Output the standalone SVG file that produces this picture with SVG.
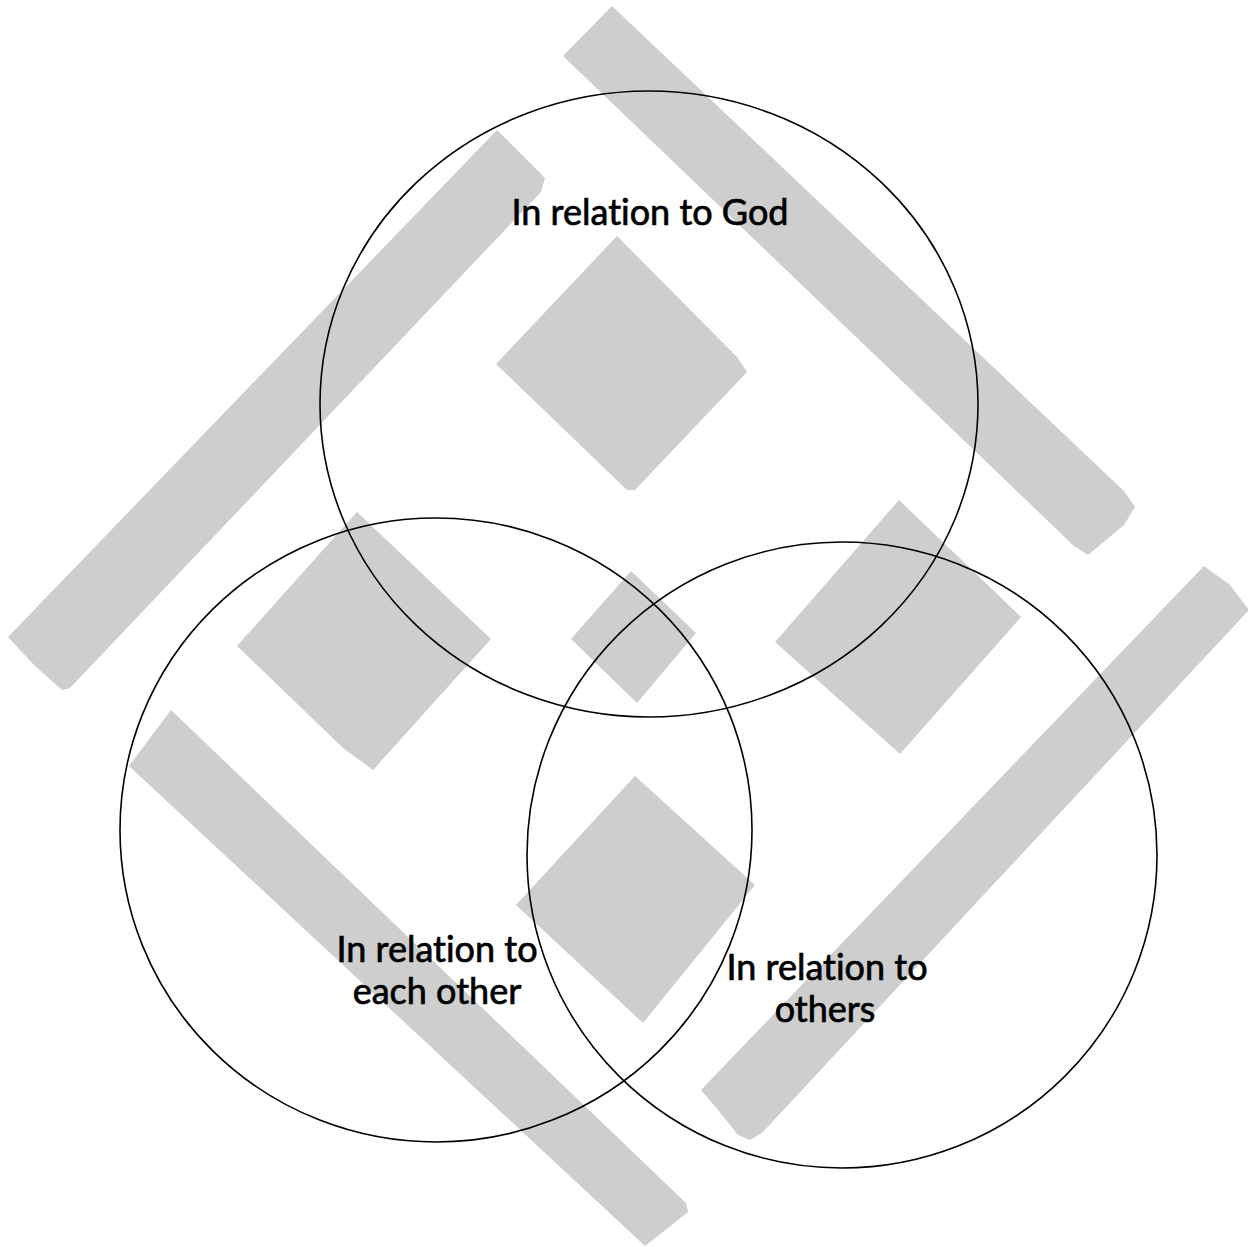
<svg xmlns="http://www.w3.org/2000/svg" width="1248" height="1247" viewBox="0 0 1248 1247">
<style>
.bg{fill:#cecece;stroke:none}
.c{fill:none;stroke:#000;stroke-width:1.6}
.t{font-family:Lato,"Open Sans","Liberation Sans",sans-serif;font-size:36px;fill:#000;stroke:#000;stroke-width:0.7;text-anchor:middle;font-variant-ligatures:none}
</style>
<rect width="1248" height="1247" fill="#fff"/>
<g id="background">
<path class="bg" d="M497,130 L545,178 L541,192 L70,688 L62,690 L35,666 L8,637 Z"/>
<path class="bg" d="M612,6 L1124,491 L1135,507 L1124,525 L1088,555 L1074,546 L563,56 Z"/>
<path class="bg" d="M171,710 L686,1203 L688,1212 L645,1246 L129,766 Z"/>
<path class="bg" d="M1204,566 L1230,585 L1249,610 L762,1133 L750,1140 L738,1135 L718,1110 L701,1090 Z"/>
<path class="bg" d="M617,236 L737,357 L747,372 L635,490 L627,490 L496,364 Z"/>
<path class="bg" d="M357,512 L491,639 L373,770 L343,748 L237,646 Z"/>
<path class="bg" d="M631,571 L696,633 L637,703 L571,639 Z"/>
<path class="bg" d="M635,776 L755,885 L643,1023 L516,905 Z"/>
<path class="bg" d="M899,500 L1021,617 L900,754 L775,642 Z"/>
</g>
<g id="node-god">
<ellipse class="c" cx="649" cy="404" rx="329" ry="313"/>
<text class="t" x="650" y="225">In relation to God</text>
</g>
<g id="node-each-other">
<ellipse class="c" cx="436" cy="830" rx="316" ry="312"/>
<text class="t" x="437" y="962">In relation to</text>
<text class="t" x="437" y="1004">each other</text>
</g>
<g id="node-others">
<ellipse class="c" cx="842" cy="855" rx="315" ry="313"/>
<text class="t" x="827" y="980">In relation to</text>
<text class="t" x="825" y="1022">others</text>
</g>
<g id="connectors"/>
</svg>
